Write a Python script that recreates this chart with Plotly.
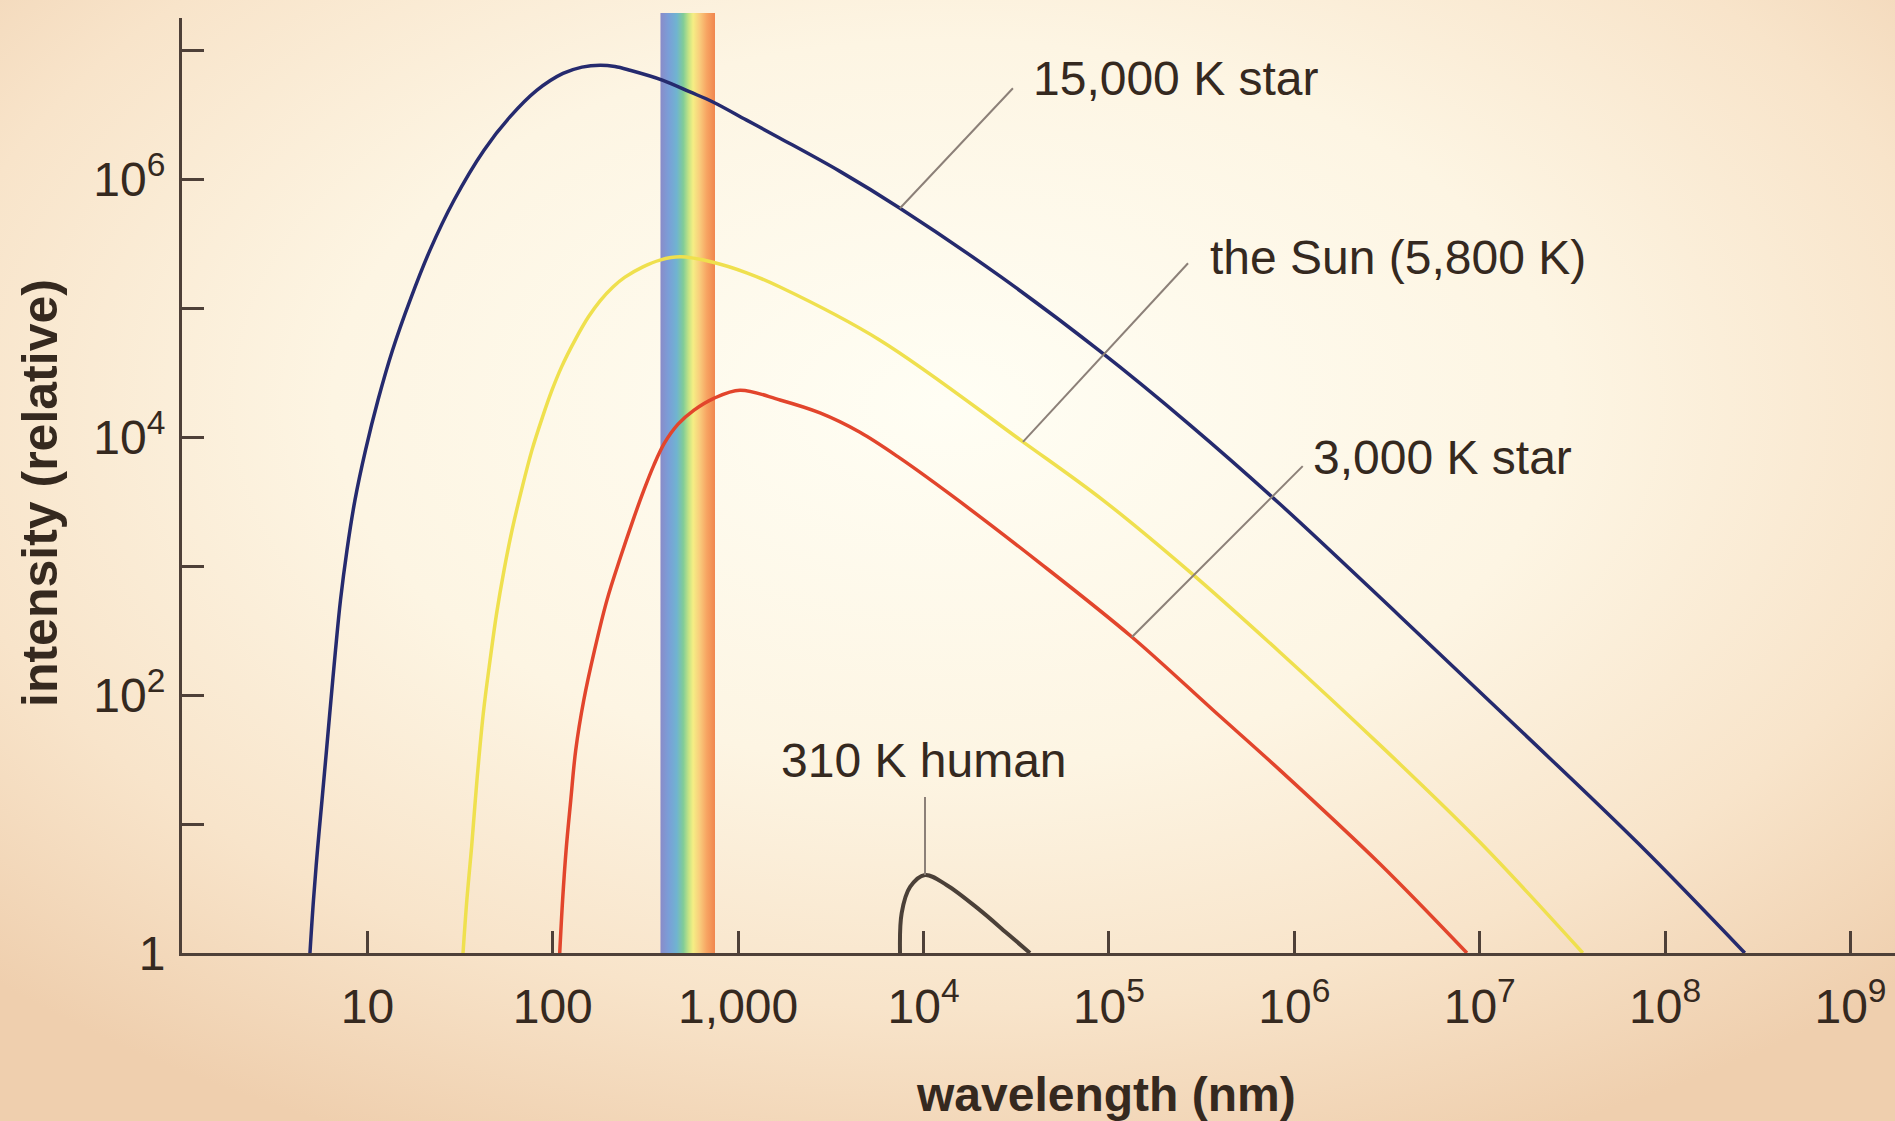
import base64
import numpy as np
import plotly.graph_objects as go

W, H = 1895, 1121

# ---- blackbody curves: wavelength (nm) vs relative intensity ----
hot_wl = [4.90, 5.12, 5.38, 5.69, 6.02, 6.36, 6.73, 7.16, 7.76, 8.57, 9.77, 11.41, 13.66,
          16.98, 21.76, 29.32, 42.55, 58.76, 82.18, 113.5, 143.7, 180, 216.5, 261, 393, 550,
          731, 1111, 1681, 3540, 7460, 25830, 89440, 2.74e5, 8.36e5, 3.71e6, 1.65e7, 7.31e7,
          2.69e8]
hot_int = [1, 2.58, 6.29, 15.3, 37.5, 91.5, 223, 545, 1330, 3250, 7930, 1.94e4, 4.72e4,
           1.15e5, 2.82e5, 6.87e5, 1.68e6, 3.04e6, 4.90e6, 6.61e6, 7.40e6, 7.66e6, 7.48e6,
           7.00e6, 5.85e6, 4.75e6, 3.97e6, 2.87e6, 2.08e6, 1.15e6, 5.96e5, 1.77e5, 4.64e4,
           1.24e4, 3030, 409, 53.6, 6.87, 1]

sun_wl = [32.8, 34.4, 36.5, 39.0, 42.2, 45.9, 49.8, 54.6, 60.3, 67.8, 77.2, 88.0, 99.0,
          111.4, 131.8, 155.8, 180, 211.2, 245.1, 306.6, 378.6, 486, 731, 1111, 1681, 5820,
          34370, 92820, 2.74e5, 8.36e5, 2.90e6, 1.00e7, 3.60e7]
sun_int = [1, 2.58, 6.67, 21.9, 72.5, 187, 432, 931, 1900, 3880, 7930, 1.43e4, 2.31e4,
           3.49e4, 5.65e4, 8.57e4, 1.14e5, 1.46e5, 1.74e5, 2.09e5, 2.36e5, 2.50e5, 2.27e5,
           1.88e5, 1.46e5, 5.65e4, 9200, 3250, 898, 215, 40.9, 7.25, 1]

cool_wl = [109, 113, 118, 125, 133, 147, 168, 196, 232, 271, 310, 351, 400, 474, 578, 740,
           1023, 1681, 2762, 4539, 7460, 13880, 42450, 1.33e5, 3.64e5, 8.36e5, 2.90e6, 8.53e6]
cool_int = [1, 2.58, 6.29, 15.3, 37.5, 91.5, 223, 545, 1175, 2275, 3880, 6070, 8970,
            1.26e4, 1.62e4, 2.00e4, 2.31e4, 1.94e4, 1.54e4, 1.09e4, 6870, 3610, 1055,
            282, 76.6, 26.2, 4.90, 1]

human_wl = [7464, 7620, 8460, 10180, 13300, 20140, 28070, 37500]
human_int = [1, 2.04, 3.25, 4.03, 3.37, 2.15, 1.43, 1]

# visible light band (nm)
visible_nm = [380, 750]

# axis ticks
x_tickvals = [10, 100, 1000, 1e4, 1e5, 1e6, 1e7, 1e8, 1e9]
x_ticktext = ["10", "100", "1,000", "10<sup>4</sup>", "10<sup>5</sup>", "10<sup>6</sup>",
              "10<sup>7</sup>", "10<sup>8</sup>", "10<sup>9</sup>"]
y_tickvals = [1, 100, 1e4, 1e6]
y_ticktext = ["1", "10<sup>2</sup>", "10<sup>4</sup>", "10<sup>6</sup>"]
y_minorvals = [10, 1e3, 1e5, 1e7]

# curve labels: text, leader start (on curve), leader end, text anchor point
labels = [
    ("15,000 K star", (7460, 5.96e5), (30340, 5.07e6), (37930, 6.07e6), "left"),
    ("the Sun (5,800 K)", (34370, 9200), (2.67e5, 2.23e5), (3.42e5, 2.48e5), "left"),
    ("3,000 K star", (1.33e5, 282), (1.11e6, 5957), (1.23e6, 7000), "left"),
    ("310 K human", (10180, 4.03), (10180, 16.2), (10050, 31.3), "center"),
]

FONT = "Liberation Sans, Arial, Helvetica, sans-serif"
INK = "#35291f"
AXIS = "#4e4038"

# soft paper background
bg_svg = (
    "<svg xmlns='http://www.w3.org/2000/svg' width='200' height='120' preserveAspectRatio='none'>"
    "<defs><radialGradient id='b' cx='0.5' cy='0.36' r='0.72'>"
    "<stop offset='0' stop-color='#fffef4'/>"
    "<stop offset='0.45' stop-color='#fdf5e3'/>"
    "<stop offset='0.75' stop-color='#f8e4ca'/>"
    "<stop offset='1' stop-color='#efcfae'/>"
    "</radialGradient></defs>"
    "<rect width='200' height='120' fill='url(#b)'/></svg>"
)
# spectrum strip
band_stops = [(0.00, "#8a8bc8"), (0.15, "#7a9ed8"), (0.30, "#70b4d0"), (0.42, "#80cc98"),
              (0.52, "#c6e484"), (0.60, "#f5ee84"), (0.72, "#f9cc7c"), (0.85, "#f7a462"),
              (1.00, "#f0864e")]
band_svg = (
    "<svg xmlns='http://www.w3.org/2000/svg' width='100' height='100' preserveAspectRatio='none'>"
    "<defs><linearGradient id='g' x1='0' x2='1' y1='0' y2='0'>"
    + "".join(f"<stop offset='{o}' stop-color='{c}'/>" for o, c in band_stops)
    + "</linearGradient></defs><rect width='100' height='100' fill='url(#g)'/></svg>"
)


def svg_uri(s):
    return "data:image/svg+xml;base64," + base64.b64encode(s.encode()).decode()


fig = go.Figure()

curves = [
    (hot_wl, hot_int, "#252a6e", 3.5),
    (sun_wl, sun_int, "#efe04e", 3.5),
    (cool_wl, cool_int, "#e2452c", 3.5),
    (human_wl, human_int, "#4b4038", 4),
]
for xs, ys, col, lw in curves:
    fig.add_trace(go.Scatter(x=xs, y=ys, mode="lines",
                             line=dict(color=col, width=lw, shape="spline", smoothing=1.0,
                                       simplify=False),
                             hoverinfo="skip"))

annotations = []
for text, p0, p1, pt, anchor in labels:
    fig.add_trace(go.Scatter(x=[p0[0], p1[0]], y=[p0[1], p1[1]], mode="lines",
                             line=dict(color="#8c8078", width=2), hoverinfo="skip"))
    annotations.append(dict(x=np.log10(pt[0]), y=np.log10(pt[1]), xref="x", yref="y",
                            text=text, showarrow=False, xanchor=anchor, yanchor="middle",
                            font=dict(family=FONT, size=48, color=INK)))

annotations.append(dict(x=40 / W, y=1 - 493 / H, xref="paper", yref="paper",
                        text="intensity (relative)", textangle=-90, showarrow=False,
                        xanchor="center", yanchor="middle",
                        font=dict(family=FONT, size=50, color=INK, weight="bold")))
annotations.append(dict(x=1106 / W, y=1 - 1094 / H, xref="paper", yref="paper",
                        text="wavelength (nm)", showarrow=False,
                        xanchor="center", yanchor="middle",
                        font=dict(family=FONT, size=48, color=INK, weight="bold")))

vis_lo, vis_hi = np.log10(visible_nm[0]), np.log10(visible_nm[1])
images = [
    dict(source=svg_uri(bg_svg), xref="paper", yref="paper", x=0, y=1, sizex=1, sizey=1,
         sizing="stretch", xanchor="left", yanchor="top", layer="below"),
    dict(source=svg_uri(band_svg), xref="x", yref="paper", x=vis_lo, y=1 - 13 / H,
         sizex=vis_hi - vis_lo, sizey=(953 - 13) / H, sizing="stretch",
         xanchor="left", yanchor="top", layer="below"),
]

tick_style = dict(ticks="inside", ticklen=22, tickwidth=2.5, tickcolor=AXIS)

fig.update_layout(
    width=W, height=H, template="none", showlegend=False,
    margin=dict(l=0, r=0, t=0, b=0),
    paper_bgcolor="#fbf0dc", plot_bgcolor="rgba(0,0,0,0)",
    images=images, annotations=annotations,
    xaxis=dict(type="log", range=[0, 9.24], domain=[182 / W, 1], automargin=False,
               showgrid=False, zeroline=False, showline=True, linecolor=AXIS, linewidth=3,
               tickvals=x_tickvals, ticktext=x_ticktext, ticklabelstandoff=9,
               tickfont=dict(family=FONT, size=48, color=INK), **tick_style),
    yaxis=dict(type="log", range=[0, 7.25], domain=[1 - 953 / H, 1 - 18 / H], automargin=False,
               showgrid=False, zeroline=False, showline=True, linecolor=AXIS, linewidth=3,
               tickvals=y_tickvals, ticktext=y_ticktext, ticklabelstandoff=4,
               minor=dict(tickmode="array", tickvals=y_minorvals, showgrid=False, **tick_style),
               tickfont=dict(family=FONT, size=48, color=INK), **tick_style),
)

fig.write_html("out.html")
